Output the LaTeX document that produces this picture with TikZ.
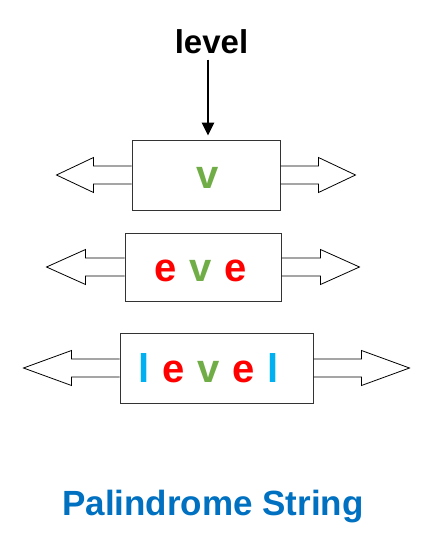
\documentclass[tikz,border=0pt]{standalone}
\usepackage{fontspec}
\setmainfont{Liberation Sans}
\usetikzlibrary{arrows.meta, positioning}

\definecolor{vgreen}{HTML}{70AD47}
\definecolor{ered}{HTML}{FF0000}
\definecolor{lcyan}{HTML}{00B0F0}
\definecolor{tblue}{HTML}{0070C0}
\newcommand{\gap}{\hspace{13pt}}

\begin{document}
\begin{tikzpicture}[
    x=1pt, y=-1pt,
    wbox/.style={draw=black!80, line width=1pt, minimum height=70pt, inner sep=0pt},
    word/.style={font=\bfseries\fontsize{40}{40}\selectfont, anchor=base, inner sep=0pt},
    side/.style={draw, line width=0.8pt},
    arr/.style={-{Triangle[width=12pt,length=13pt]}, line width=2.6pt},
  ]
  \useasboundingbox (0,0) rectangle (421,544);

  % the three boxes
  \node[wbox, minimum width=148pt] (box1) at (206,175) {};
  \node[wbox, minimum width=156pt, minimum height=68pt] (box2) at (203,267) {};
  \node[wbox, minimum width=193pt] (box3) at (216.5,368) {};

  % arrows left and right of each box
  \foreach \b/\s/\h in {box1/38/37, box2/39/39, box3/48/48} {
    \draw[side] ([yshift=9pt]\b.west) -- ++(-\s,0) -- ++(0,-8.5) -- ++(-\h,17.5)
      -- ++(\h,17.5) -- ++(0,-8.5) -- ++(\s,0);
    \draw[side] ([yshift=9pt]\b.east) -- ++(\s,0) -- ++(0,-8.5) -- ++(\h,17.5)
      -- ++(-\h,17.5) -- ++(0,-8.5) -- ++(-\s,0);
  }

  % letters
  \node[word] (word1) at (208,188) {\color{vgreen}v};
  \node[word] (word2) at (200.5,281) {\color{ered}e\gap\color{vgreen}v\gap\color{ered}e};
  \node[word] (word3) at (208.5,382) {\color{lcyan}l\gap\color{ered}e\gap\color{vgreen}v\gap\color{ered}e\gap\color{lcyan}l};

  % input word and arrow
  \node[font=\bfseries\fontsize{33}{33}\selectfont, anchor=base, inner sep=0pt] (input) at (211.5,53) {level};
  \coordinate (in1) at ([xshift=2pt]box1.north);
  \draw[arr, shorten <=6pt, shorten >=4pt] (in1 |- input.south) -- (in1);

  \node[font=\bfseries\fontsize{35}{35}\selectfont, text=tblue, anchor=base, inner sep=0pt] (title) at (213,515) {Palindrome String};
\end{tikzpicture}
\end{document}
